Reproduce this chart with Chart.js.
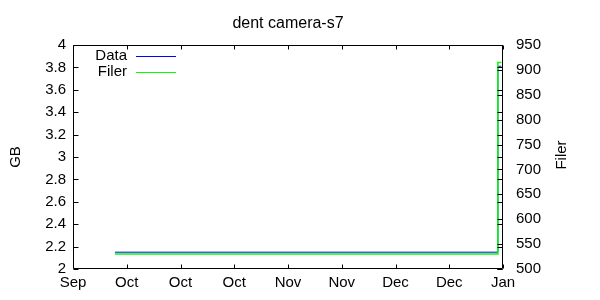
<!DOCTYPE html>
<html><head><meta charset="utf-8">
<script src="https://cdn.jsdelivr.net/npm/chart.js@4/dist/chart.umd.min.js"></script>
<style>html,body{margin:0;padding:0;background:#fff}#wrap{width:600px;height:300px}</style>
</head><body>
<div id="wrap"><canvas id="c"></canvas></div>
<script>
const chartTitle = 'dent camera-s7';
const xTickLabels = ['Sep','Oct','Oct','Oct','Nov','Nov','Dec','Dec','Jan'];
const xPos = [0.78, 7.905, 7.905, 7.97];
const dataGB = [2.15, 2.15, 3.81, 3.81];
const filerCount = [530, 530, 915, 915];
const seriesLabels = ['Data', 'Filer'];

const FONT = 'Liberation Sans, Arial, sans-serif';

const framePlugin = {
  id: 'frame',
  afterDatasetsDraw(chart) {
    const {ctx, chartArea: a, scales} = chart;
    ctx.save();
    ctx.strokeStyle = '#000';
    ctx.lineWidth = 1;
    ctx.beginPath();
    const L = Math.round(a.left) + 0.5, R = Math.round(a.right) - 0.5;
    const T = Math.round(a.top) + 0.5, B = Math.round(a.bottom) - 0.5;
    ctx.rect(L, T, R - L, B - T);
    scales.y.ticks.forEach(t => {
      const p = Math.round(scales.y.getPixelForValue(t.value)) + 0.5;
      ctx.moveTo(L, p); ctx.lineTo(L + 5, p);
      ctx.moveTo(R, p); ctx.lineTo(R - 5, p);
    });
    scales.y2.ticks.forEach(t => {
      const p = Math.round(scales.y2.getPixelForValue(t.value)) + 0.5;
      ctx.moveTo(R, p); ctx.lineTo(R - 5, p);
    });
    scales.x.ticks.forEach(t => {
      const p = Math.round(scales.x.getPixelForValue(t.value)) + 0.5;
      ctx.moveTo(p, B); ctx.lineTo(p, B - 4);
      ctx.moveTo(p, T); ctx.lineTo(p, T + 4);
    });
    ctx.stroke();

    ctx.fillStyle = '#000';
    // title centred over the plot area
    ctx.font = '16px ' + FONT;
    ctx.textAlign = 'center';
    ctx.textBaseline = 'alphabetic';
    ctx.fillText(chartTitle, (a.left + a.right) / 2, 28);

    // axis titles
    ctx.font = '15px ' + FONT;
    ctx.textBaseline = 'middle';
    ctx.save();
    ctx.translate(15.5, 157);
    ctx.rotate(-Math.PI / 2);
    ctx.fillText('GB', 0, 0);
    ctx.restore();
    ctx.save();
    ctx.translate(562, 155);
    ctx.rotate(-Math.PI / 2);
    ctx.fillText('Filer', 0, 0);
    ctx.restore();

    // legend
    ctx.textAlign = 'right';
    chart.data.datasets.forEach((ds, i) => {
      const y = 56 + i * 15.5;
      ctx.fillStyle = '#000';
      ctx.fillText(ds.label, 127, y);
      ctx.strokeStyle = ds.borderColor;
      ctx.beginPath();
      ctx.moveTo(136, Math.round(y) + 0.5);
      ctx.lineTo(176, Math.round(y) + 0.5);
      ctx.stroke();
    });
    ctx.restore();
  }
};

new Chart(document.getElementById('c'), {
  type: 'scatter',
  data: {
    datasets: [
      {
        label: seriesLabels[0],
        data: xPos.map((x, i) => ({x, y: dataGB[i]})),
        borderColor: '#0000ff',
        backgroundColor: '#0000ff',
        showLine: true, pointRadius: 0, borderWidth: 1,
        yAxisID: 'y', order: 2
      },
      {
        label: seriesLabels[1],
        data: xPos.map((x, i) => ({x, y: filerCount[i]})),
        borderColor: '#00ff00',
        backgroundColor: '#00ff00',
        showLine: true, pointRadius: 0, borderWidth: 1.5,
        yAxisID: 'y2', order: 1
      }
    ]
  },
  options: {
    responsive: true,
    maintainAspectRatio: false,
    animation: false,
    devicePixelRatio: 1,
    layout: {padding: {top: 45}},
    plugins: {
      legend: {display: false},
      tooltip: {enabled: false},
      title: {display: false}
    },
    scales: {
      x: {
        type: 'linear', min: 0, max: 8,
        grid: {display: false, drawTicks: false},
        border: {display: false},
        ticks: {
          stepSize: 1, autoSkip: false, maxRotation: 0, padding: 5,
          color: '#000', font: {family: FONT, size: 15},
          callback: v => xTickLabels[v]
        },
        afterFit(s) { s.height = 31; }
      },
      y: {
        position: 'left', min: 2, max: 4,
        grid: {display: false, drawTicks: false},
        border: {display: false},
        ticks: {stepSize: 0.2, padding: 7, color: '#000', font: {family: FONT, size: 15},
          callback: v => Math.round(v * 10) / 10},
        afterFit(s) { s.width = 73; }
      },
      y2: {
        position: 'right', min: 500, max: 950,
        grid: {display: false, drawTicks: false},
        border: {display: false},
        ticks: {stepSize: 50, padding: 13, color: '#000', font: {family: FONT, size: 15}},
        afterFit(s) { s.width = 97; }
      }
    }
  },
  plugins: [framePlugin]
});
</script>
</body></html>
